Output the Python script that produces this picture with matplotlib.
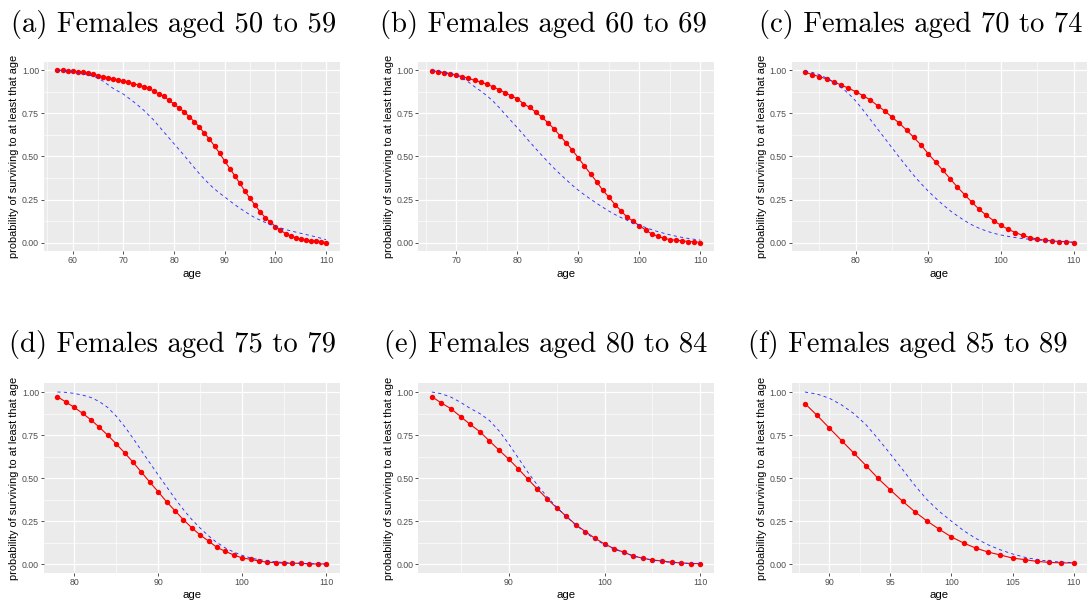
import numpy as np
import matplotlib
matplotlib.use("Agg")
import matplotlib.pyplot as plt
from matplotlib.ticker import FixedLocator, FuncFormatter
from matplotlib.transforms import Bbox

plt.rcParams['lines.scale_dashes'] = False

# ---------------- data ----------------
titles = ["(a) Females aged 50 to 59", "(b) Females aged 60 to 69", "(c) Females aged 70 to 74",
          "(d) Females aged 75 to 79", "(e) Females aged 80 to 84", "(f) Females aged 85 to 89"]

start_ages = [57, 66, 73, 78, 82, 88]

red_a = [1.000, 1.000, 0.996, 0.994, 0.992, 0.990, 0.984, 0.979, 0.969, 0.963,
         0.957, 0.950, 0.944, 0.938, 0.930, 0.922, 0.915, 0.905, 0.895, 0.880,
         0.862, 0.849, 0.826, 0.804, 0.781, 0.760, 0.731, 0.702, 0.671, 0.634,
         0.601, 0.560, 0.519, 0.473, 0.430, 0.388, 0.343, 0.298, 0.256, 0.217,
         0.178, 0.145, 0.120, 0.093, 0.072, 0.052, 0.039, 0.027, 0.019, 0.014,
         0.010, 0.008, 0.006, 0.000]
blue_a = [1.000, 0.998, 0.995, 0.991, 0.986, 0.980, 0.974, 0.966, 0.955, 0.937,
          0.916, 0.895, 0.878, 0.862, 0.840, 0.818, 0.794, 0.769, 0.740, 0.711,
          0.676, 0.642, 0.608, 0.574, 0.540, 0.506, 0.470, 0.435, 0.400, 0.368,
          0.338, 0.311, 0.287, 0.265, 0.242, 0.220, 0.199, 0.180, 0.161, 0.144,
          0.130, 0.117, 0.105, 0.095, 0.085, 0.076, 0.068, 0.061, 0.054, 0.047,
          0.040, 0.033, 0.025, 0.017]

red_b = [0.998, 0.992, 0.986, 0.979, 0.971, 0.963, 0.953, 0.942, 0.932, 0.919,
         0.905, 0.888, 0.870, 0.851, 0.835, 0.806, 0.785, 0.758, 0.729, 0.696,
         0.661, 0.620, 0.579, 0.537, 0.492, 0.444, 0.399, 0.353, 0.304, 0.264,
         0.221, 0.184, 0.147, 0.124, 0.097, 0.074, 0.050, 0.037, 0.025, 0.017,
         0.014, 0.010, 0.006, 0.006, 0.000]
blue_b = [1.000, 0.996, 0.990, 0.983, 0.973, 0.955, 0.932, 0.905, 0.880, 0.853,
          0.822, 0.785, 0.745, 0.706, 0.667, 0.627, 0.586, 0.546, 0.507, 0.469,
          0.432, 0.398, 0.365, 0.333, 0.304, 0.277, 0.252, 0.228, 0.205, 0.183,
          0.163, 0.145, 0.129, 0.114, 0.101, 0.088, 0.075, 0.064, 0.054, 0.045,
          0.037, 0.030, 0.024, 0.019, 0.014]

red_c = [0.990, 0.975, 0.963, 0.950, 0.932, 0.915, 0.896, 0.876, 0.853, 0.828,
         0.795, 0.764, 0.728, 0.693, 0.653, 0.610, 0.566, 0.515, 0.467, 0.419,
         0.371, 0.322, 0.278, 0.234, 0.193, 0.158, 0.127, 0.100, 0.077, 0.058,
         0.042, 0.029, 0.021, 0.014, 0.010, 0.006, 0.006, 0.000]
blue_c = [0.995, 0.988, 0.975, 0.955, 0.930, 0.902, 0.865, 0.822, 0.770, 0.715,
          0.660, 0.605, 0.550, 0.495, 0.442, 0.390, 0.342, 0.298, 0.258, 0.220,
          0.185, 0.155, 0.127, 0.103, 0.083, 0.067, 0.054, 0.044, 0.036, 0.029,
          0.023, 0.019, 0.015, 0.012, 0.009, 0.006, 0.004, 0.002]

red_d = [0.973, 0.942, 0.911, 0.876, 0.838, 0.795, 0.749, 0.699, 0.647, 0.593,
         0.535, 0.477, 0.421, 0.363, 0.311, 0.259, 0.212, 0.170, 0.135, 0.098,
         0.075, 0.054, 0.037, 0.029, 0.019, 0.012, 0.010, 0.006, 0.006, 0.006,
         0.002, 0.002, 0.002]
blue_d = [1.000, 0.998, 0.992, 0.982, 0.968, 0.944, 0.910, 0.860, 0.800, 0.732,
          0.660, 0.589, 0.519, 0.450, 0.382, 0.318, 0.260, 0.210, 0.165, 0.126,
          0.095, 0.071, 0.052, 0.037, 0.027, 0.020, 0.014, 0.010, 0.008, 0.006,
          0.004, 0.003, 0.002]

red_e = [0.973, 0.936, 0.903, 0.857, 0.812, 0.770, 0.716, 0.663, 0.611, 0.555,
         0.495, 0.437, 0.381, 0.329, 0.279, 0.230, 0.190, 0.151, 0.118, 0.091,
         0.070, 0.048, 0.035, 0.025, 0.019, 0.012, 0.008, 0.004, 0.004]
blue_e = [1.000, 0.990, 0.970, 0.940, 0.905, 0.875, 0.835, 0.775, 0.700, 0.618,
          0.535, 0.460, 0.393, 0.332, 0.278, 0.228, 0.185, 0.145, 0.114, 0.089,
          0.067, 0.049, 0.035, 0.024, 0.016, 0.011, 0.007, 0.005, 0.004]

red_f = [0.933, 0.864, 0.791, 0.718, 0.646, 0.573, 0.498, 0.431, 0.366, 0.305,
         0.251, 0.203, 0.159, 0.123, 0.094, 0.071, 0.054, 0.036, 0.027, 0.017,
         0.011, 0.008, 0.008]
blue_f = [1.000, 0.988, 0.964, 0.925, 0.875, 0.810, 0.728, 0.640, 0.550, 0.458,
          0.375, 0.307, 0.250, 0.195, 0.150, 0.113, 0.084, 0.060, 0.041, 0.027,
          0.018, 0.013, 0.010]

reds = [red_a, red_b, red_c, red_d, red_e, red_f]
blues = [blue_a, blue_b, blue_c, blue_d, blue_e, blue_f]

x_major = [[60, 70, 80, 90, 100, 110], [70, 80, 90, 100, 110], [80, 90, 100, 110],
           [80, 90, 100, 110], [90, 100, 110], [90, 95, 100, 105, 110]]
y_major = [0.0, 0.25, 0.5, 0.75, 1.0]
ylabel = "probability of surviving to at least that age"
xlabel = "age"

# ---------------- layout ----------------
W, H = 1089, 602
fig = plt.figure(figsize=(W / 100, H / 100), dpi=100)

col_left = [44.0, 418.4, 791.5]
panel_w = 295.5
row_top = [61.7, 383.4]
panel_h = 189.5
title_base = [31.7, 352.0]
title_x = [11, 380, 759, 9, 384, 748]
clip_top = [55.5, 376.5]

bg = "#EBEBEB"
sans = ["Liberation Sans", "DejaVu Sans"]

for i in range(6):
    r, c = divmod(i, 3)
    l = col_left[c]
    t = row_top[r]
    ax = fig.add_axes([l / W, 1 - (t + panel_h) / H, panel_w / W, panel_h / H])
    ax.set_facecolor(bg)
    for s in ax.spines.values():
        s.set_visible(False)

    ages = np.arange(start_ages[i], start_ages[i] + len(reds[i]))
    ax.plot(ages, reds[i], color="#F20000", lw=0.8, zorder=3)
    ax.plot(ages, reds[i], 'o', color="#FF0000", ms=3.9, mew=0, zorder=4)
    ax.plot(ages, blues[i], color="#2E2EFF", lw=0.65, dashes=(2.3, 2.3), zorder=5)

    xr = ages.max() - ages.min()
    ax.set_xlim(ages.min() - 0.05 * xr, ages.max() + 0.05 * xr)
    ax.set_ylim(-0.05, 1.05)

    xm = x_major[i]
    step = xm[1] - xm[0]
    xminor = [xm[0] - step / 2] + [v + step / 2 for v in xm]
    ax.xaxis.set_major_locator(FixedLocator(xm))
    ax.xaxis.set_minor_locator(FixedLocator(xminor))
    ax.yaxis.set_major_locator(FixedLocator(y_major))
    ax.yaxis.set_minor_locator(FixedLocator([0.125, 0.375, 0.625, 0.875]))
    ax.yaxis.set_major_formatter(FuncFormatter(lambda v, p: f"{v:.2f}"))
    ax.xaxis.set_major_formatter(FuncFormatter(lambda v, p: f"{v:g}"))

    ax.grid(which='major', color='white', lw=0.9, zorder=0)
    ax.grid(which='minor', color='white', lw=0.45, zorder=0)
    ax.set_axisbelow(True)
    ax.tick_params(which='major', length=2.4, width=0.6, color="#333333",
                   labelsize=6.3, labelcolor="#4D4D4D", pad=1.2)
    ax.tick_params(which='minor', length=0)
    for lab in ax.get_xticklabels() + ax.get_yticklabels():
        lab.set_family(sans)

    ax.set_xlabel(xlabel, fontsize=8.2, family=sans, labelpad=2.5, color="black")

    # y label, centred on panel and clipped at the top like the reference
    yc = t + panel_h / 2
    txt = fig.text((l - 29.5) / W, 1 - yc / H, ylabel, rotation=90, ha='center', va='center',
                   fontsize=7.9, family=sans, color="black")
    clip = Bbox.from_extents(l - 44, 0, l, H - clip_top[r])
    txt.set_clip_box(clip)
    txt.set_clip_on(True)

    fig.text(title_x[i] / W, 1 - title_base[r] / H, titles[i], ha='left', va='baseline',
             fontsize=20.6, family="cmr10")

fig.savefig("out.png", dpi=100, facecolor="white")
